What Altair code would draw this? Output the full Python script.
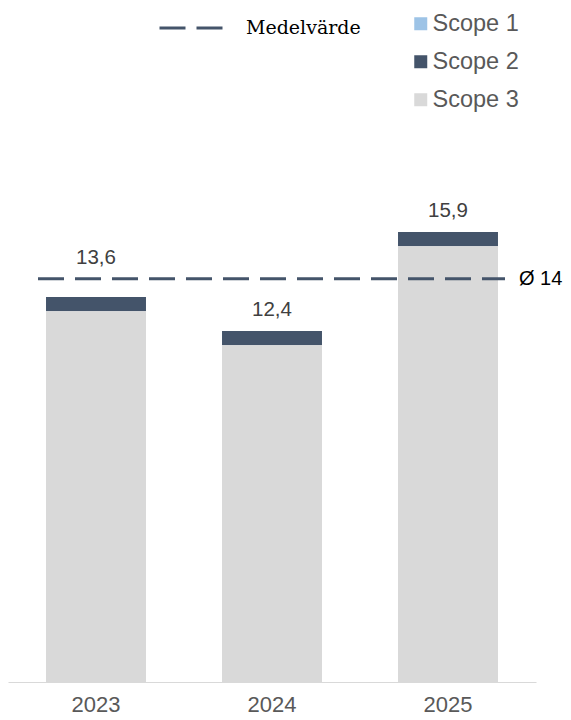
import altair as alt
import pandas as pd

years = ["2023", "2024", "2025"]
scopes = ["Scope 1", "Scope 2", "Scope 3"]
scope1 = [0.0, 0.0, 0.0]
scope2 = [0.5, 0.5, 0.5]
scope3 = [13.1, 11.9, 15.4]
totals = [13.6, 12.4, 15.9]
mean_value = 14.25
mean_label = "Medelvärde"
colors = ["#9dc3e6", "#44546a", "#d9d9d9"]

rows = []
for i, y in enumerate(years):
    for j, (s, vals) in enumerate(zip(scopes, [scope1, scope2, scope3])):
        rows.append({"year": y, "scope": s, "value": vals[i], "order": 3 - j})
bars_df = pd.DataFrame(rows)
tot_df = pd.DataFrame({"year": years, "total": totals, "mean": [mean_value] * 3})
mean_df = pd.DataFrame({"mean": [mean_value], "series": [mean_label]})

W, H = 528, 566
xscale = alt.Scale(domain=years, paddingInner=0.432, paddingOuter=0.216)
yscale = alt.Scale(domain=[0, 20], nice=False, zero=True)

bars = alt.Chart(bars_df).mark_bar().encode(
    x=alt.X("year:N", scale=xscale, sort=years,
            axis=alt.Axis(title=None, ticks=False, labelAngle=0, labelFontSize=22,
                          labelColor="#595959", labelPadding=12, domainColor="#d9d9d9",
                          domainWidth=1, labelFont="Liberation Sans")),
    y=alt.Y("value:Q", stack="zero", scale=yscale, axis=None),
    color=alt.Color("scope:N", scale=alt.Scale(domain=scopes, range=colors),
                    legend=alt.Legend(title=None, orient="none", legendX=401, legendY=-104,
                                      symbolType="square", symbolSize=169, symbolStrokeWidth=0,
                                      labelFontSize=23.5, labelColor="#595959", labelOffset=0,
                                      labelFont="Liberation Sans", rowPadding=13, padding=0)),
    order=alt.Order("order:Q"),
)

labels = alt.Chart(tot_df).transform_calculate(
    ypos="abs(datum.total - datum.mean) < 1 ? max(datum.total, datum.mean) : datum.total",
    txt="replace(format(datum.total, '.1f'), '.', ',')",
).mark_text(fontSize=20.5, color="#404040", baseline="alphabetic", dy=-15,
            font="Liberation Sans").encode(
    x=alt.X("year:N", scale=xscale, sort=years),
    y=alt.Y("ypos:Q", scale=yscale),
    text="txt:N",
)

rule = alt.Chart(mean_df).mark_rule(strokeWidth=3, color="#44546a").encode(
    x=alt.value(30), x2=alt.value(497),
    y=alt.Y("mean:Q", scale=yscale),
    strokeDash=alt.StrokeDash("series:N", scale=alt.Scale(domain=[mean_label], range=[[26, 11]]),
                              legend=alt.Legend(title=None, orient="none", legendX=150, legendY=-121,
                                                symbolType="stroke", symbolSize=3969,
                                                symbolStrokeWidth=3, symbolStrokeColor="#44546a",
                                                labelFontSize=19, labelColor="#000000",
                                                labelFont="DejaVu Serif", labelOffset=22, padding=0)),
)

mean_txt = alt.Chart(mean_df).transform_calculate(
    txt="'Ø ' + format(datum.mean, '.0f')"
).mark_text(fontSize=20, color="#000000", align="left", baseline="middle",
            font="Liberation Sans").encode(
    x=alt.value(511),
    y=alt.Y("mean:Q", scale=yscale),
    text="txt:N",
)

chart = alt.layer(bars, rule, labels, mean_txt).resolve_scale(
    color="independent", strokeDash="independent"
).properties(
    width=W, height=H,
    autosize=alt.AutoSizeParams(type="none"),
    padding={"left": 0, "top": 108, "right": 27, "bottom": 38},
).configure_view(stroke=None)

chart.save("out.html", embed_options={"renderer": "svg", "actions": False})
